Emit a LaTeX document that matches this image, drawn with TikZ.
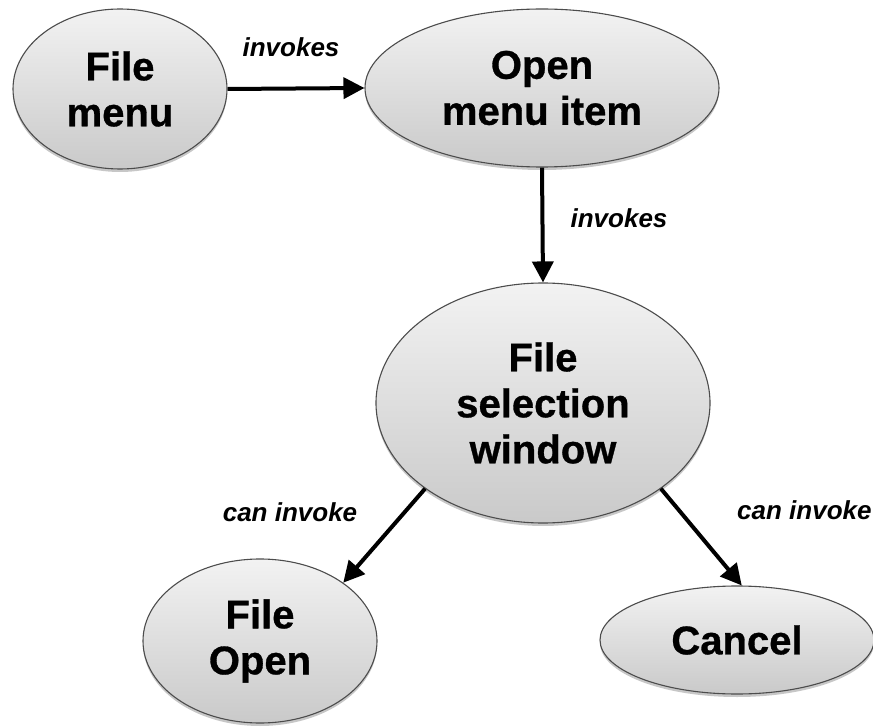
\documentclass[tikz,border=0pt]{standalone}
\usepackage{fontspec}
\setmainfont{Liberation Sans}[BoldFeatures={FakeBold=0.8}]
\usetikzlibrary{shapes.geometric,arrows.meta,shadows}
\tikzset{
  bubble/.style={ellipse, draw=black!70, line width=1.1pt, inner sep=0pt,
    top color=black!5, bottom color=black!21,
    drop shadow={shadow xshift=0pt, shadow yshift=-3pt, opacity=0.22, fill=black},
    align=center, font=\fontsize{40}{46}\selectfont\bfseries},
  link/.style={line width=4pt, -{Triangle[length=21pt,width=21pt]}},
  tag/.style={font=\fontsize{26}{30}\selectfont\bfseries\itshape, inner sep=0pt}
}
\begin{document}
\begin{tikzpicture}[x=1pt,y=-1pt]
\useasboundingbox (0,0) rectangle (873,727);
\fill[white] (0,0) rectangle (873,727);

% concept bubbles
\node[bubble, minimum width=214pt, minimum height=160pt] (filemenu) at (120,89) {File\\menu};
\node[bubble, minimum width=354pt, minimum height=158pt] (openitem) at (542,88) {Open\\menu item};
\node[bubble, minimum width=334pt, minimum height=240pt] (selwin) at (543,403) {File\\selection\\window};
\node[bubble, minimum width=234pt, minimum height=164pt] (fileopen) at (260,641) {File\\Open};
\node[bubble, minimum width=274pt, minimum height=108pt] (cancel) at (737,640) {Cancel};

% relations
\draw[link] (filemenu.east) -- (openitem.west);
\draw[link] (openitem.south) -- (selwin.north);
\draw[link] (selwin.216) -- (fileopen.35);
\draw[link] (selwin.324) -- (cancel.85);

% relation labels
\node[tag] (l1) at (291,47) {invokes};
\node[tag] (l2) at (619,218) {invokes};
\node[tag] (l3) at (290,512) {can invoke};
\node[tag, anchor=west] (l4) at (737,510) {can invoke};
\end{tikzpicture}
\end{document}
